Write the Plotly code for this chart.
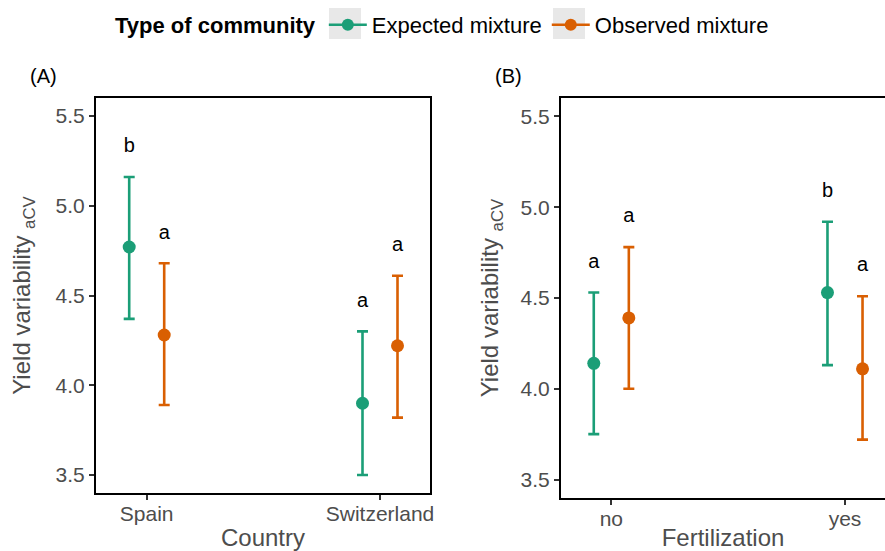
import plotly.graph_objects as go

# ---------------- data ----------------
countries = ["Spain", "Switzerland"]
a_exp_mean = [4.77, 3.90]
a_exp_low = [4.37, 3.50]
a_exp_high = [5.16, 4.30]
a_exp_letters = ["b", "a"]
a_obs_mean = [4.28, 4.22]
a_obs_low = [3.89, 3.82]
a_obs_high = [4.68, 4.61]
a_obs_letters = ["a", "a"]

fertilization = ["no", "yes"]
b_exp_mean = [4.14, 4.53]
b_exp_low = [3.75, 4.13]
b_exp_high = [4.53, 4.92]
b_exp_letters = ["a", "b"]
b_obs_mean = [4.39, 4.11]
b_obs_low = [4.00, 3.72]
b_obs_high = [4.78, 4.51]
b_obs_letters = ["a", "a"]

series_names = ["Expected mixture", "Observed mixture"]
colors = ["#1B9E77", "#D95F02"]

# ---------------- layout constants ----------------
W, H = 885, 551
DODGE = 0.075
LETTER_OFFSET = 0.165
FONT = "Liberation Sans, Arial, sans-serif"
TICK_FONT = dict(family=FONT, size=21, color="#4D4D4D")
TITLE_FONT = dict(family=FONT, size=24, color="#4D4D4D")

fig = go.Figure()


def add_panel(cats, means_list, lows_list, highs_list, letters_list, xa, ya):
    for k, (m, lo, hi, let) in enumerate(zip(means_list, lows_list, highs_list, letters_list)):
        off = -DODGE if k == 0 else DODGE
        xs = [i + 1 + off for i in range(len(cats))]
        fig.add_trace(go.Scatter(
            x=xs, y=m, mode="markers",
            marker=dict(color=colors[k], size=13),
            error_y=dict(type="data", symmetric=False,
                         array=[h - v for h, v in zip(hi, m)],
                         arrayminus=[v - l for v, l in zip(m, lo)],
                         color=colors[k], thickness=2.6, width=5.5),
            showlegend=False, xaxis=xa, yaxis=ya, cliponaxis=False,
            name=series_names[k],
        ))
        fig.add_trace(go.Scatter(
            x=xs, y=[h + LETTER_OFFSET for h in hi], mode="text", text=let,
            textposition="middle center",
            textfont=dict(family=FONT, size=20, color="black"),
            showlegend=False, xaxis=xa, yaxis=ya, cliponaxis=False, hoverinfo="skip",
        ))


add_panel(countries, [a_exp_mean, a_obs_mean], [a_exp_low, a_obs_low],
          [a_exp_high, a_obs_high], [a_exp_letters, a_obs_letters], "x", "y")
add_panel(fertilization, [b_exp_mean, b_obs_mean], [b_exp_low, b_obs_low],
          [b_exp_high, b_obs_high], [b_exp_letters, b_obs_letters], "x2", "y2")

# legend entries
for k in range(2):
    fig.add_trace(go.Scatter(
        x=[None], y=[None], mode="lines+markers", name=series_names[k],
        line=dict(color=colors[k], width=2.6),
        marker=dict(color=colors[k], size=12),
        xaxis="x", yaxis="y",
    ))

# ---------------- axes ----------------
ppu_a = (380 - 146.7)
a_xmin = 1 - (146.7 - 96) / ppu_a
a_xmax = 2 + (430 - 380) / ppu_a
ppu_b = (845 - 611.3)
b_xmin = 1 - (611.3 - 561) / ppu_b
b_xmax = b_xmin + (885 - 561) / ppu_b

common_x = dict(showline=True, linecolor="black", linewidth=2, showgrid=False,
                zeroline=False, ticks="outside", ticklen=5, tickwidth=1.5,
                tickcolor="#333333", tickfont=TICK_FONT, tickvals=[1, 2],
                ticklabelstandoff=-4, automargin=False)
common_y = dict(showline=True, linecolor="black", linewidth=2, showgrid=False,
                zeroline=False, ticks="outside", ticklen=5, tickwidth=1.5,
                tickcolor="#333333", tickfont=TICK_FONT,
                tickvals=[3.5, 4.0, 4.5, 5.0, 5.5], tickformat=".1f",
                range=[3.40, 5.60], automargin=False)

YTITLE = "Yield variability <sub>aCV</sub>"

fig.update_layout(
    width=W, height=H,
    margin=dict(l=0, r=0, t=0, b=0),
    paper_bgcolor="white", plot_bgcolor="white",
    xaxis=dict(common_x, domain=[96 / W, 430 / W], range=[a_xmin, a_xmax],
               ticktext=countries, mirror=True,
               title=dict(text="Country", font=TITLE_FONT, standoff=7)),
    yaxis=dict(common_y, domain=[1 - 493 / H, 1 - 98 / H], mirror=True, anchor="x",
               title=dict(text=YTITLE, font=TITLE_FONT, standoff=18)),
    xaxis2=dict(common_x, domain=[561 / W, 1.0], range=[b_xmin, b_xmax],
                ticktext=fertilization, mirror=True, anchor="y2",
                title=dict(text="Fertilization", font=TITLE_FONT, standoff=9)),
    yaxis2=dict(common_y, domain=[1 - 497.7 / H, 1 - 98.3 / H], anchor="x2",
                title=dict(text=YTITLE, font=TITLE_FONT, standoff=15)),
    legend=dict(orientation="h", x=113 / W, xanchor="left", y=1 - 4 / H, yanchor="top",
                bgcolor="rgba(0,0,0,0)", itemwidth=38,
                font=dict(family=FONT, size=22, color="black"),
                title=dict(text="<b>Type of community</b>", side="left",
                           font=dict(family=FONT, size=22, color="black"))),
    annotations=[
        dict(text="(A)", x=43 / W, y=1 - 76 / H, xref="paper", yref="paper",
             xanchor="center", yanchor="middle",
             showarrow=False, font=dict(family=FONT, size=20, color="black")),
        dict(text="(B)", x=508 / W, y=1 - 76 / H, xref="paper", yref="paper",
             xanchor="center", yanchor="middle",
             showarrow=False, font=dict(family=FONT, size=20, color="black")),
    ],
    shapes=[
        dict(type="rect", xref="paper", yref="paper", layer="below",
             x0=329 / W, x1=361 / W, y0=1 - 39 / H, y1=1 - 8 / H,
             fillcolor="#E8E8E8", line=dict(width=0)),
        dict(type="rect", xref="paper", yref="paper", layer="below",
             x0=553 / W, x1=585 / W, y0=1 - 39 / H, y1=1 - 8 / H,
             fillcolor="#E8E8E8", line=dict(width=0)),
    ],
)

fig.write_html("out.html")
